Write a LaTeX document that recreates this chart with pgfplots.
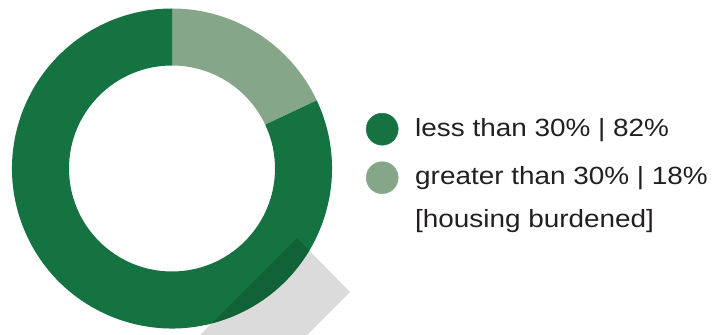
\documentclass[border=0pt]{standalone}
\usepackage{pgfplots}
\pgfplotsset{compat=1.18}
\usepackage{pgfplotstable}
\usepackage{fontspec}
\setmainfont[FakeStretch=1.12]{Liberation Sans}
\definecolor{darkg}{HTML}{147340}
\definecolor{lightg}{HTML}{86A689}
\definecolor{txt}{HTML}{231F20}

\pgfplotstableread{
share value
less 82
greater 18
}\sharetable

\begin{document}
\begin{tikzpicture}
\pgfplotstablegetelem{0}{value}\of\sharetable \let\vless\pgfplotsretval
\pgfplotstablegetelem{1}{value}\of\sharetable \let\vgreater\pgfplotsretval
\pgfmathsetmacro{\aA}{90}
\pgfmathsetmacro{\aB}{90-3.6*\vgreater}
\pgfmathsetmacro{\aC}{\aB-3.6*\vless}
\begin{axis}[
  scale only axis, width=727bp, height=335bp,
  xmin=0, xmax=727, ymin=0, ymax=335,
  hide axis,
  legend cell align=left,
  legend style={draw=none, fill=none, inner sep=0pt,
    at={(axis cs:366,219)}, anchor=north west,
    font=\fontsize{25}{30}\selectfont\color{txt},
    row sep=22.5bp,
    nodes={inner sep=0pt, text height=20bp, text depth=6bp}},
]
\addlegendimage{legend image code/.code={\path[draw=none,fill=none] (0bp,0bp) -- (49bp,0bp); \fill[darkg,overlay] (16bp,0bp) circle[radius=16bp];}}
\addlegendentry{less than 30\% | 82\%}
\addlegendimage{legend image code/.code={\path[draw=none,fill=none] (0bp,0bp) -- (49bp,0bp); \fill[lightg,overlay] (16bp,0bp) circle[radius=16bp];}}
\addlegendentry{greater than 30\% | 18\%}
\addlegendimage{empty legend}
\addlegendentry{\raisebox{5.5bp}{[housing burdened]}}

\fill[lightg] (axis cs:172,166.5) ++(\aA:160bp) arc[start angle=\aA, end angle=\aB, radius=160bp]
  -- ++(\aB:-57bp) arc[start angle=\aB, end angle=\aA, radius=103bp] -- cycle;
\fill[darkg] (axis cs:172,166.5) ++(\aB:160bp) arc[start angle=\aB, end angle=\aC, radius=160bp]
  -- ++(\aC:-57bp) arc[start angle=\aC, end angle=\aB, radius=103bp] -- cycle;
\fill[black, opacity=0.14] (axis cs:297,97) -- (axis cs:350,43) -- (axis cs:200,-107) -- (axis cs:147,-53) -- cycle;
\end{axis}
\path[use as bounding box] (current axis.south west) rectangle (current axis.north east);
\end{tikzpicture}
\end{document}
